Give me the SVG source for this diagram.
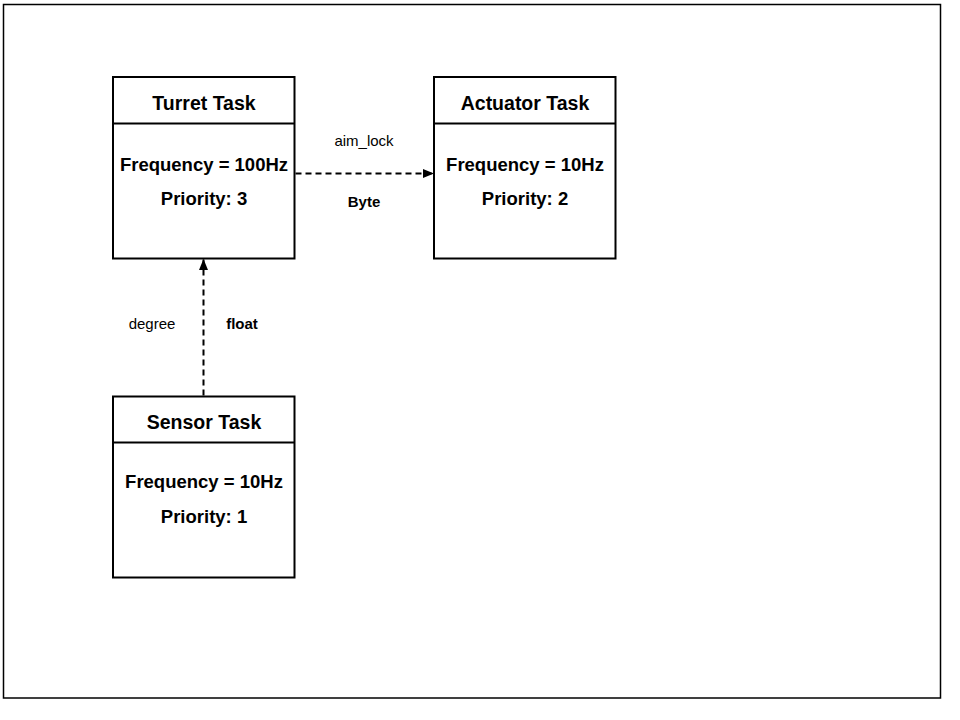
<svg xmlns="http://www.w3.org/2000/svg" width="960" height="720" viewBox="0 0 960 720">
<defs>
<style>
.box{fill:#fff;stroke:#000;stroke-width:2}
.div{stroke:#000;stroke-width:2}
.t{font-family:"Liberation Sans",Arial,sans-serif;fill:#000;text-anchor:middle}
.title{font-size:19.5px;font-weight:bold}
.body{font-size:18.5px;font-weight:bold}
.lbl{font-size:15px}
.lblb{font-size:15px;font-weight:bold}
.conn{stroke:#000;stroke-width:2;stroke-dasharray:6 4;fill:none}
</style>
<marker id="ah" markerWidth="11" markerHeight="10" refX="11" refY="5" orient="auto" markerUnits="userSpaceOnUse">
<path d="M0,0.5 L11,5 L0,9.5 Z" fill="#000"/>
</marker>
</defs>
<rect x="0" y="0" width="960" height="720" fill="#fff"/>
<rect x="3.5" y="4.5" width="937" height="693.5" fill="none" stroke="#000" stroke-width="1.5"/>
<g id="turret">
<rect class="box" x="113" y="77" width="181.5" height="181.5"/>
<line class="div" x1="113" y1="123.5" x2="294.5" y2="123.5"/>
<text class="t title" x="204" y="110">Turret Task</text>
<text class="t body" x="204" y="170.5">Frequency = 100Hz</text>
<text class="t body" x="204" y="204.5">Priority: 3</text>
</g>
<g id="actuator">
<rect class="box" x="434" y="77" width="181.5" height="181.5"/>
<line class="div" x1="434" y1="123.5" x2="615.5" y2="123.5"/>
<text class="t title" x="525" y="110">Actuator Task</text>
<text class="t body" x="525" y="170.5">Frequency = 10Hz</text>
<text class="t body" x="525" y="204.5">Priority: 2</text>
</g>
<g id="sensor">
<rect class="box" x="113" y="396.5" width="181.5" height="181"/>
<line class="div" x1="113" y1="442.5" x2="294.5" y2="442.5"/>
<text class="t title" x="204" y="428.5">Sensor Task</text>
<text class="t body" x="204" y="488">Frequency = 10Hz</text>
<text class="t body" x="204" y="523">Priority: 1</text>
</g>
<g id="connectors">
<line class="conn" x1="295.5" y1="173.5" x2="434" y2="173.5" marker-end="url(#ah)"/>
<text class="t lbl" x="364" y="146">aim_lock</text>
<text class="t lblb" x="364" y="206.5">Byte</text>
<line class="conn" x1="203.5" y1="395.5" x2="203.5" y2="259" marker-end="url(#ah)"/>
<text class="t lbl" x="152" y="328.5">degree</text>
<text class="t lblb" x="242" y="328.5">float</text>
</g>
</svg>
